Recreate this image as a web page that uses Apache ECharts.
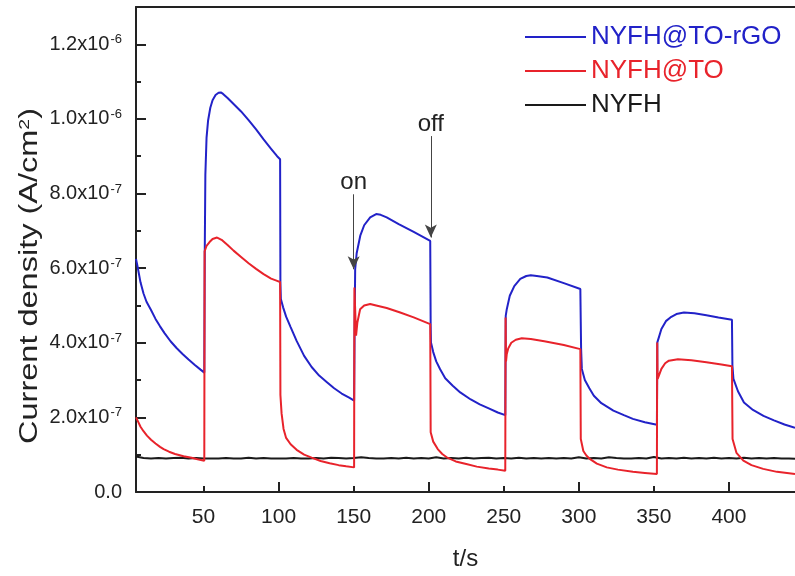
<!DOCTYPE html>
<html>
<head>
<meta charset="utf-8">
<script src="https://cdn.jsdelivr.net/npm/echarts@6/dist/echarts.min.js"></script>
<style>
  html, body { margin: 0; padding: 0; background: #fff; }
  #chart { width: 795px; height: 576px; }
</style>
</head>
<body>
<div id="chart"></div>
<script>
// Photocurrent response under chopped illumination (light on/off every 50 s).
// Current densities are listed in units of 1e-7 A/cm^2.
const UNIT = 1e-7;

const seriesNames = ['NYFH@TO-rGO', 'NYFH@TO', 'NYFH'];
const seriesColors = ['#2222c8', '#e8232b', '#1a1a1a'];

// NYFH@TO-rGO
const blueT = [5, 6, 8, 10, 12, 15, 18, 21, 24, 28, 32, 36, 40, 44, 48, 50.5,
  50.8, 51.2, 52, 53, 54.5, 56, 58, 60, 61.5, 63, 66, 70, 75, 80, 85, 90, 95, 99, 101,
  101.2, 101.5, 103, 105, 108, 112, 117, 122, 127, 132, 137, 142, 147, 150.3,
  150.6, 151, 152, 154.4, 157, 161, 165, 168, 172, 180, 190, 201,
  201.3, 201.5, 203, 205, 207.6, 211, 216, 221, 228, 234, 240, 246, 251,
  251.3, 252, 254, 257, 261, 265, 268, 272, 279, 290, 301,
  301.5, 302, 304, 307, 310, 315, 323, 330, 336, 344, 352,
  352.3, 355, 358, 361, 365, 370, 377, 385, 393, 402,
  402.3, 403, 406, 410, 416, 423, 430, 437, 444];
const blueV = [6.25, 6.05, 5.62, 5.32, 5.1, 4.88, 4.64, 4.44, 4.26, 4.04, 3.86, 3.7, 3.55, 3.41, 3.28, 3.2,
  6.4, 8.5, 9.5, 9.95, 10.3, 10.5, 10.64, 10.7, 10.71, 10.67, 10.56, 10.4, 10.2, 9.97, 9.72, 9.45, 9.2, 9.0, 8.92,
  5.6, 5.17, 4.95, 4.7, 4.42, 4.05, 3.65, 3.35, 3.12, 2.95, 2.78, 2.64, 2.53, 2.45,
  4.2, 5.97, 6.4, 6.87, 7.15, 7.36, 7.45, 7.43, 7.36, 7.18, 6.97, 6.73,
  4.45, 4.01, 3.75, 3.5, 3.29, 3.05, 2.85, 2.67, 2.48, 2.35, 2.24, 2.13, 2.06,
  4.72, 4.9, 5.26, 5.52, 5.71, 5.79, 5.81, 5.79, 5.75, 5.6, 5.44,
  3.85, 3.3, 3.0, 2.78, 2.58, 2.38, 2.18, 2.06, 1.96, 1.87, 1.8,
  4.01, 4.37, 4.58, 4.68, 4.77, 4.81, 4.79, 4.74, 4.68, 4.62,
  3.4, 3.03, 2.7, 2.4, 2.2, 2.04, 1.92, 1.81, 1.72];

// NYFH@TO
const redT = [5, 6, 8, 10, 12.3, 15, 18, 21, 23.4, 27, 31, 36.7, 42, 46, 50.5,
  50.7, 52, 54, 56, 59, 62, 66, 70, 75, 80, 85, 90, 95, 99, 101,
  101.2, 102, 103.3, 105, 108, 112, 117, 122, 128, 134, 140, 145, 150.3,
  150.5, 151.6, 152.5, 154.3, 157, 161, 165, 172, 181, 190, 201,
  201.3, 203, 206, 209, 212, 218, 225, 232, 240, 246, 251,
  251.2, 251.5, 252, 253, 255, 258, 262, 268, 277, 290, 301,
  301.3, 303, 305, 307.5, 312, 318.6, 326, 336, 344, 352,
  352.2, 352.5, 355, 357.5, 360, 366, 375, 385, 395, 402,
  402.4, 405, 409.6, 415, 422.8, 432, 444];
const redV = [2.0, 1.92, 1.75, 1.63, 1.51, 1.4, 1.3, 1.21, 1.15, 1.08, 1.02, 0.96, 0.92, 0.88, 0.84,
  6.45, 6.6, 6.7, 6.78, 6.82, 6.76, 6.62, 6.47, 6.3, 6.13, 5.98, 5.84, 5.72, 5.66, 5.63,
  2.6, 2.1, 1.69, 1.45, 1.28, 1.13, 1.0, 0.92, 0.83, 0.77, 0.72, 0.69, 0.66,
  5.48, 4.19, 4.55, 4.9, 5.0, 5.04, 5.0, 4.93, 4.81, 4.68, 4.5,
  1.6, 1.35, 1.15, 1.02, 0.93, 0.82, 0.75, 0.68, 0.63, 0.6, 0.57,
  4.68, 3.5, 3.7, 3.85, 4.0, 4.08, 4.12, 4.1, 4.04, 3.94, 3.83,
  1.42, 1.1, 0.98, 0.88, 0.76, 0.66, 0.6, 0.54, 0.51, 0.48,
  4.01, 3.03, 3.3, 3.45, 3.52, 3.56, 3.53, 3.48, 3.42, 3.37,
  1.42, 1.05, 0.84, 0.72, 0.62, 0.54, 0.48];

// NYFH (dark current level, barely responsive)
const blackT = [5, 10, 15, 20, 25, 30, 35, 40, 45, 50, 55, 60, 65, 70, 75, 80, 85, 90, 95, 100,
  105, 110, 115, 120, 125, 130, 135, 140, 145, 150, 155, 160, 165, 170, 175, 180, 185, 190, 195, 200,
  205, 210, 215, 220, 225, 230, 235, 240, 245, 250, 255, 260, 265, 270, 275, 280, 285, 290, 295, 300,
  305, 310, 315, 320, 325, 330, 335, 340, 345, 350, 355, 360, 365, 370, 375, 380, 385, 390, 395, 400,
  405, 410, 415, 420, 425, 430, 435, 440, 444];
const blackV = [0.95, 0.91, 0.90, 0.91, 0.90, 0.91, 0.92, 0.90, 0.91, 0.90, 0.90, 0.90, 0.91, 0.90, 0.90, 0.92, 0.90, 0.91, 0.90, 0.90,
  0.90, 0.91, 0.90, 0.90, 0.91, 0.90, 0.92, 0.91, 0.90, 0.91, 0.93, 0.91, 0.90, 0.90, 0.91, 0.90, 0.92, 0.90, 0.91, 0.90,
  0.93, 0.90, 0.91, 0.90, 0.92, 0.90, 0.91, 0.92, 0.90, 0.91, 0.90, 0.92, 0.90, 0.91, 0.90, 0.91, 0.90, 0.91, 0.90, 0.93,
  0.90, 0.91, 0.90, 0.93, 0.91, 0.90, 0.90, 0.91, 0.90, 0.94, 0.90, 0.91, 0.90, 0.92, 0.90, 0.91, 0.90, 0.92, 0.90, 0.91,
  0.90, 0.92, 0.90, 0.91, 0.90, 0.91, 0.90, 0.90, 0.89];

// Axis ticks and labels
const xTickLabels = [50, 100, 150, 200, 250, 300, 350, 400];
const xMajorTicks = [100, 200, 300, 400];
const xMinorTicks = [50, 150, 250, 350];
const yTickValues = [0, 2, 4, 6, 8, 10, 12];
const yTickLabels = ['0.0', '2.0x10|-7', '4.0x10|-7', '6.0x10|-7', '8.0x10|-7', '1.0x10|-6', '1.2x10|-6'];
const yMinorValues = [1, 3, 5, 7, 9, 11];
const yTitle = 'Current density (A/cm{s|2})';
const xTitle = 't/s';

// Light switching annotations: [label, time, arrow top, arrow tip]
const switchMarks = [['on', 150, 7.98, 5.97], ['off', 201.4, 9.54, 6.82]];

const FONT = 'Liberation Sans, Arial, sans-serif';
const AXIS_COLOR = '#222';
const TEXT_COLOR = '#222';

function pairs(ts, vs) {
  return ts.map((t, i) => [t, vs[i] * UNIT]);
}

function yLabel(value) {
  const k = Math.round(value / UNIT);
  const idx = yTickValues.indexOf(k);
  if (idx < 0) return '';
  const parts = yTickLabels[idx].split('|');
  return parts.length > 1 ? '{b|' + parts[0] + '}{s|' + parts[1] + '}' : '{b|' + parts[0] + '}';
}

const chart = echarts.init(document.getElementById('chart'), null, { renderer: 'canvas' });

const lineSeries = (name, data, color, z) => ({
  name, type: 'line', data, showSymbol: false, symbol: 'none',
  xAxisIndex: 0, yAxisIndex: 0, z,
  lineStyle: { color, width: 2 }, itemStyle: { color },
  animation: false
});

const blackSeries = lineSeries(seriesNames[2], pairs(blackT, blackV), seriesColors[2], 2);
blackSeries.markLine = {
  silent: true,
  symbol: ['none', 'arrow'],
  symbolSize: [9, 13],
  lineStyle: { color: '#444', width: 1, type: 'solid' },
  label: { show: true, position: 'start', distance: 0, fontSize: 24, fontFamily: FONT, color: TEXT_COLOR },
  data: switchMarks.map(m => [
    { coord: [m[1], m[2] * UNIT], label: { formatter: m[0] } },
    { coord: [m[1], m[3] * UNIT] }
  ])
};

chart.setOption({
  animation: false,
  textStyle: { fontFamily: FONT },
  grid: { left: 136, right: 0, top: 7, bottom: 83, containLabel: false },
  legend: {
    orient: 'vertical', left: 525, top: 24, padding: 0,
    icon: 'rect', itemWidth: 61, itemHeight: 2, itemGap: 8,
    textStyle: { fontSize: 26, lineHeight: 26, fontFamily: FONT },
    data: seriesNames.map((n, i) => ({ name: n, textStyle: { color: seriesColors[i] } }))
  },
  // Rotated y-axis title, drawn elongated along its reading direction
  graphic: [{
    type: 'text', x: 30, y: 276, rotation: Math.PI / 2, scaleX: 1.3, silent: true,
    style: {
      text: yTitle, align: 'center', verticalAlign: 'middle',
      fontSize: 25, fontFamily: FONT, fill: TEXT_COLOR,
      rich: { s: { fontSize: 15, fontFamily: FONT, fill: TEXT_COLOR, padding: [0, 0, 11, 0] } }
    }
  }],
  xAxis: [
    {
      type: 'value', min: 5, max: 444, position: 'bottom',
      name: xTitle, nameLocation: 'middle', nameGap: 55,
      nameTextStyle: { fontSize: 24, color: TEXT_COLOR, fontFamily: FONT },
      axisLine: { show: true, lineStyle: { color: AXIS_COLOR, width: 2 } },
      axisTick: { show: true, inside: true, length: 10, customValues: xMajorTicks, lineStyle: { color: AXIS_COLOR, width: 2 } },
      axisLabel: { customValues: xTickLabels, margin: 15, fontSize: 21, color: TEXT_COLOR, fontFamily: FONT },
      splitLine: { show: false }
    },
    {
      type: 'value', min: 5, max: 444, position: 'bottom',
      axisLine: { show: false },
      axisTick: { show: true, inside: true, length: 6, customValues: xMinorTicks, lineStyle: { color: AXIS_COLOR, width: 2 } },
      axisLabel: { show: false }, splitLine: { show: false }
    },
    {
      type: 'value', min: 5, max: 444, position: 'top',
      axisLine: { show: true, lineStyle: { color: AXIS_COLOR, width: 2 } },
      axisTick: { show: false }, axisLabel: { show: false }, splitLine: { show: false }
    }
  ],
  yAxis: [
    {
      type: 'value', min: 0, max: 13 * UNIT, position: 'left',
      axisLine: { show: true, lineStyle: { color: AXIS_COLOR, width: 2 } },
      axisTick: { show: true, inside: true, length: 10, customValues: yTickValues.map(v => v * UNIT), lineStyle: { color: AXIS_COLOR, width: 2 } },
      axisLabel: {
        customValues: yTickValues.map(v => v * UNIT), margin: 14,
        formatter: yLabel,
        rich: {
          b: { fontSize: 20, color: TEXT_COLOR, fontFamily: FONT },
          s: { fontSize: 13, color: TEXT_COLOR, fontFamily: FONT, padding: [0, 0, 9, 1] }
        }
      },
      splitLine: { show: false }
    },
    {
      type: 'value', min: 0, max: 13 * UNIT, position: 'left',
      axisLine: { show: false },
      axisTick: { show: true, inside: true, length: 5, customValues: yMinorValues.map(v => v * UNIT), lineStyle: { color: AXIS_COLOR, width: 2 } },
      axisLabel: { show: false }, splitLine: { show: false }
    }
  ],
  series: [
    blackSeries,
    lineSeries(seriesNames[0], pairs(blueT, blueV), seriesColors[0], 3),
    lineSeries(seriesNames[1], pairs(redT, redV), seriesColors[1], 4)
  ]
});
</script>
</body>
</html>
